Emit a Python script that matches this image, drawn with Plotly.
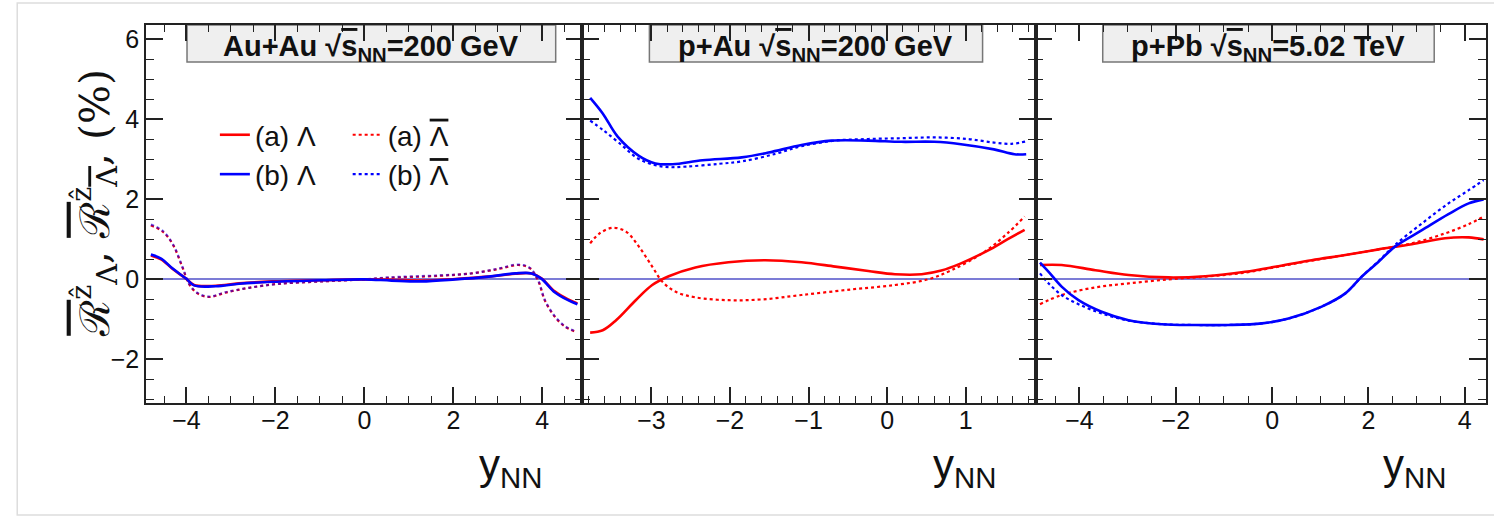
import plotly.graph_objects as go

# ---------------- data ----------------
panel_titles = ["Au+Au", "p+Au", "p+Pb"]
panel_energies = ["=200 GeV", "=200 GeV", "=5.02 TeV"]
series_names = ["(a) Λ", "(b) Λ", "(a) Λ̄", "(b) Λ̄"]

# Panel 1: Au+Au 200 GeV
p1_lam_x = [-4.80, -4.57, -4.31, -4.01, -3.83, -3.34, -2.82, -2.07, -0.96, 0.0,
            0.61, 1.28, 2.04, 2.79, 3.39, 3.76, 3.98, 4.28, 4.58, 4.79]
p1_a_lam_y = [0.60, 0.50, 0.26, 0.02, -0.14, -0.16, -0.10, -0.05, -0.02, 0.0,
              -0.01, -0.03, 0.01, 0.07, 0.14, 0.15, 0.03, -0.30, -0.50, -0.60]
p1_b_lam_y = [0.62, 0.52, 0.27, 0.02, -0.15, -0.17, -0.11, -0.06, -0.02, 0.0,
              -0.03, -0.05, 0.0, 0.07, 0.15, 0.15, 0.02, -0.32, -0.52, -0.62]
p1_bar_x = [-4.80, -4.54, -4.31, -4.09, -3.94, -3.75, -3.49, -3.12, -2.59, -1.92, -0.96, 0.0,
            0.54, 1.67, 2.41, 3.01, 3.46, 3.72, 3.91, 4.06, 4.28, 4.51, 4.73]
p1_a_bar_y = [1.35, 1.20, 0.88, 0.30, -0.12, -0.35, -0.44, -0.33, -0.21, -0.11, -0.05, 0.0,
              0.04, 0.09, 0.15, 0.26, 0.36, 0.28, -0.04, -0.53, -0.93, -1.18, -1.30]
p1_b_bar_y = [1.37, 1.22, 0.89, 0.31, -0.11, -0.34, -0.43, -0.32, -0.21, -0.11, -0.05, 0.0,
              0.05, 0.10, 0.15, 0.27, 0.37, 0.29, -0.03, -0.52, -0.92, -1.17, -1.29]

# Panel 2: p+Au 200 GeV
p2_a_lam_x = [-3.78, -3.62, -3.45, -3.20, -2.99, -2.78, -2.44, -2.02, -1.55, -1.09,
              -0.66, -0.24, 0.10, 0.44, 0.69, 0.94, 1.28, 1.53, 1.75]
p2_a_lam_y = [-1.33, -1.27, -1.02, -0.52, -0.14, 0.08, 0.30, 0.43, 0.48, 0.43,
              0.32, 0.21, 0.13, 0.13, 0.22, 0.40, 0.72, 1.00, 1.24]
p2_b_lam_x = [-3.78, -3.62, -3.43, -3.16, -2.95, -2.73, -2.35, -1.85, -1.51, -1.09,
              -0.71, -0.24, 0.18, 0.60, 0.94, 1.36, 1.62, 1.77]
p2_b_lam_y = [4.54, 4.15, 3.57, 3.09, 2.90, 2.88, 2.98, 3.05, 3.17, 3.36,
              3.47, 3.47, 3.44, 3.44, 3.38, 3.25, 3.13, 3.13]
p2_a_bar_x = [-3.78, -3.66, -3.49, -3.32, -3.16, -2.99, -2.86, -2.69, -2.44, -2.02,
              -1.59, -1.09, -0.45, 0.10, 0.52, 0.82, 1.24, 1.53, 1.75]
p2_a_bar_y = [0.90, 1.15, 1.29, 1.19, 0.82, 0.32, -0.06, -0.31, -0.45, -0.52,
              -0.50, -0.39, -0.25, -0.14, 0.0, 0.23, 0.69, 1.15, 1.57]
p2_b_bar_x = [-3.78, -3.62, -3.41, -3.16, -2.86, -2.56, -2.14, -1.85, -1.42, -1.09,
              -0.66, -0.24, 0.18, 0.60, 1.03, 1.36, 1.58, 1.77]
p2_b_bar_y = [3.97, 3.74, 3.41, 3.01, 2.82, 2.82, 2.89, 2.95, 3.14, 3.33,
              3.47, 3.51, 3.53, 3.55, 3.51, 3.42, 3.39, 3.45]

# Panel 3: p+Pb 5.02 TeV
p3_a_lam_x = [-4.82, -4.37, -3.67, -2.98, -2.15, -1.39, -0.56, 0.13, 0.82, 1.52,
              2.21, 2.90, 3.59, 4.08, 4.39]
p3_a_lam_y = [0.36, 0.36, 0.23, 0.11, 0.05, 0.08, 0.19, 0.33, 0.48, 0.61,
              0.75, 0.88, 1.03, 1.05, 1.00]
p3_b_lam_x = [-4.82, -4.64, -4.37, -4.02, -3.54, -2.98, -2.29, -1.60, -0.91, -0.21,
              0.34, 1.03, 1.52, 1.86, 2.21, 2.55, 3.11, 3.66, 4.08, 4.39]
p3_b_lam_y = [0.42, 0.19, -0.18, -0.52, -0.81, -1.02, -1.12, -1.14, -1.14, -1.10,
              -0.98, -0.68, -0.35, 0.07, 0.44, 0.82, 1.23, 1.63, 1.90, 2.00]
p3_a_bar_x = [-4.82, -4.37, -3.67, -2.98, -2.15, -1.39, -0.56, 0.13, 0.82, 1.52,
              2.21, 2.90, 3.59, 4.08, 4.39]
p3_a_bar_y = [-0.62, -0.39, -0.20, -0.10, 0.0, 0.07, 0.17, 0.32, 0.47, 0.61,
              0.75, 0.90, 1.15, 1.38, 1.57]
p3_b_bar_x = [-4.82, -4.64, -4.37, -4.02, -3.54, -2.98, -2.29, -1.60, -0.91, -0.21,
              0.34, 1.03, 1.52, 1.86, 2.21, 2.55, 3.11, 3.66, 4.08, 4.39]
p3_b_bar_y = [0.15, -0.10, -0.39, -0.62, -0.85, -1.03, -1.12, -1.14, -1.14, -1.10,
              -0.98, -0.68, -0.35, 0.07, 0.46, 0.86, 1.40, 1.90, 2.23, 2.48]

x_ranges = [[-4.91, 4.90], [-3.88, 1.89], [-4.91, 4.44]]
x_dticks = [2, 1, 2]
x_minor_dticks = [0.5, 0.2, 0.5]
y_range = [-3.09, 6.36]

# ---------------- figure ----------------
RED = "#ff0000"
BLUE = "#0000ff"
FONT = "Liberation Sans, Arial, sans-serif"
OVL = "<span style='text-decoration:overline'>Λ</span>"

fig = go.Figure()

panels = [
    (p1_lam_x, p1_a_lam_y, p1_lam_x, p1_b_lam_y, p1_bar_x, p1_a_bar_y, p1_bar_x, p1_b_bar_y),
    (p2_a_lam_x, p2_a_lam_y, p2_b_lam_x, p2_b_lam_y, p2_a_bar_x, p2_a_bar_y, p2_b_bar_x, p2_b_bar_y),
    (p3_a_lam_x, p3_a_lam_y, p3_b_lam_x, p3_b_lam_y, p3_a_bar_x, p3_a_bar_y, p3_b_bar_x, p3_b_bar_y),
]
names = ["(a) Λ", "(b) Λ", "(a) " + OVL, "(b) " + OVL]
legends = ["legend", "legend", "legend2", "legend2"]

for i, (ax_, ay_, bx_, by_, abx, aby, bbx, bby) in enumerate(panels):
    xa = "x" if i == 0 else f"x{i+1}"
    ya = "y" if i == 0 else f"y{i+1}"
    show = (i == 1)
    fig.add_trace(go.Scatter(x=abx, y=aby, mode="lines", line=dict(color=RED, width=2.2, dash="dot", shape="spline"),
                             name=names[2], legend=legends[2], legendrank=1, showlegend=show, xaxis=xa, yaxis=ya))
    fig.add_trace(go.Scatter(x=bbx, y=bby, mode="lines", line=dict(color=BLUE, width=2.2, dash="dot", shape="spline"),
                             opacity=0.55 if i == 0 else 1.0,
                             name=names[3], legend=legends[3], legendrank=2, showlegend=show, xaxis=xa, yaxis=ya))
    fig.add_trace(go.Scatter(x=ax_, y=ay_, mode="lines", line=dict(color=RED, width=2.6, shape="spline"),
                             name=names[0], legend=legends[0], legendrank=1, showlegend=show, xaxis=xa, yaxis=ya))
    fig.add_trace(go.Scatter(x=bx_, y=by_, mode="lines", line=dict(color=BLUE, width=2.6, shape="spline"),
                             name=names[1], legend=legends[1], legendrank=2, showlegend=show, xaxis=xa, yaxis=ya))

domains = [[0.0, 0.3256], [0.3256, 0.6639], [0.6639, 1.0]]
axis_common = dict(showline=True, linecolor="#222", linewidth=1.5, mirror="ticks",
                   ticks="inside", tickcolor="#222", tickwidth=1.5, showgrid=False,
                   tickfont=dict(family=FONT, size=25, color="#111"))
for i in range(3):
    sx = "" if i == 0 else str(i + 1)
    fig.layout["xaxis" + sx] = dict(
        domain=domains[i], range=x_ranges[i], anchor="y" + sx, dtick=x_dticks[i], tick0=0,
        ticklen=16, zeroline=False, ticklabelstandoff=-6,
        minor=dict(ticks="inside", ticklen=7, dtick=x_minor_dticks[i], tick0=0, tickcolor="#222", tickwidth=1.2),
        **axis_common)
    fig.layout["yaxis" + sx] = dict(
        domain=[0, 1], range=y_range, anchor="x" + sx, dtick=2, tick0=0, ticklen=17,
        showticklabels=(i == 0), zeroline=True, zerolinecolor="rgba(80,80,200,0.75)", zerolinewidth=1.8,
        minor=dict(ticks="inside", ticklen=8, dtick=0.5, tick0=0, tickcolor="#222", tickwidth=1.2),
        **axis_common)

# Panel title boxes and text
box_x = [[0.094, 0.939], [0.148, 0.883], [0.149, 0.885]]
for i in range(3):
    sx = "" if i == 0 else str(i + 1)
    fig.add_shape(type="rect", xref=f"x{sx} domain", yref=f"y{sx} domain",
                  x0=box_x[i][0], x1=box_x[i][1], y0=0.902, y1=1.0,
                  fillcolor="#efefef", line=dict(color="#777", width=1.5), layer="below")
    fig.add_annotation(xref=f"x{sx} domain", yref=f"y{sx} domain",
                       x=(box_x[i][0] + box_x[i][1]) / 2, y=1.0, yshift=-3, yanchor="top", showarrow=False,
                       text=f"<b>{panel_titles[i]} √<span style='text-decoration:overline'>s</span><sub>NN</sub>{panel_energies[i]}</b>",
                       font=dict(family=FONT, size=29, color="#111"))
    # x-axis title, right-aligned near the axis end
    fig.add_annotation(xref=f"x{sx} domain", yref=f"y{sx} domain",
                       x=1.0, xshift=-38, xanchor="right", y=-0.12, yshift=9, yanchor="top", showarrow=False,
                       text="y<sub>NN</sub>", font=dict(family=FONT, size=42, color="#111"))

# y-axis title
fig.add_annotation(xref="paper", yref="paper", x=-0.0626, y=0.53, textangle=-90, showarrow=False,
                   text=("<span style='text-decoration:overline'>ℛ</span><sup>ẑ</sup><sub>Λ</sub>, "
                         "<span style='text-decoration:overline'>ℛ</span><sup>ẑ</sup><sub>" + OVL + "</sub>, (%)"),
                   font=dict(family="DejaVu Serif, serif", size=41, color="#111"))

# outer light frame of the picture
fig.add_shape(type="rect", xref="paper", yref="paper", x0=-0.0961, x1=1.01, y0=-0.296, y1=1.058,
              line=dict(color="#dddddd", width=1.5), fillcolor="rgba(0,0,0,0)")

fig.update_layout(
    width=1494, height=518,
    margin=dict(l=146, r=6, t=25, b=115),
    paper_bgcolor="white", plot_bgcolor="white",
    legend=dict(x=0.0514, y=0.775, xanchor="left", yanchor="top", bgcolor="rgba(0,0,0,0)",
                font=dict(family=FONT, size=28, color="#111"), tracegroupgap=0, itemwidth=30),
    legend2=dict(x=0.1505, y=0.775, xanchor="left", yanchor="top", bgcolor="rgba(0,0,0,0)",
                 font=dict(family=FONT, size=28, color="#111"), tracegroupgap=0, itemwidth=30),
)

fig.write_html("out.html", config={"displayModeBar": False},
               post_script="document.body.style.margin='0';")
